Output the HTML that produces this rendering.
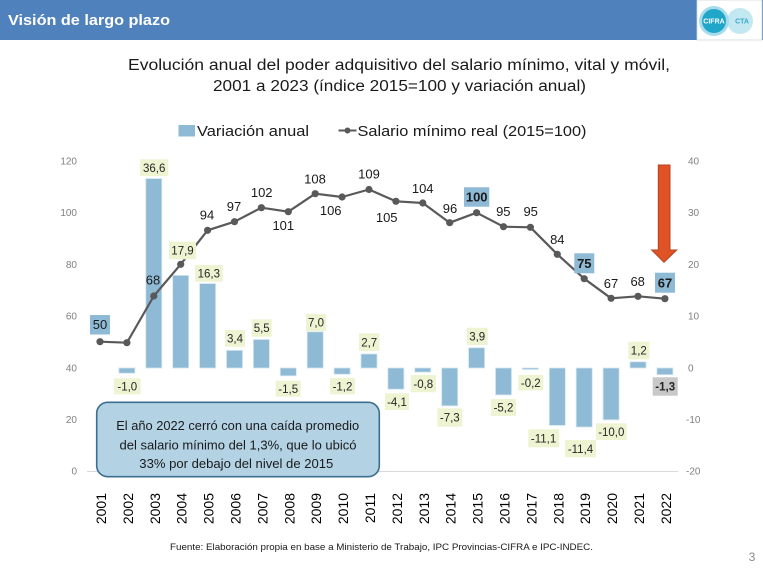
<!DOCTYPE html>
<html><head><meta charset="utf-8"><style>
html,body{margin:0;padding:0;background:#fff;}
svg{display:block;font-family:"Liberation Sans",sans-serif;}
</style></head><body>
<svg width="763" height="572" viewBox="0 0 763 572" xmlns="http://www.w3.org/2000/svg">
<!-- header -->
<rect x="0" y="0" width="763" height="40" fill="#4f81bd"/>
<text x="8" y="25" font-size="15" font-weight="bold" fill="#fff" textLength="162" lengthAdjust="spacingAndGlyphs">Visión de largo plazo</text>
<rect x="697" y="0" width="65" height="40" fill="#fff" stroke="#d0d8e0" stroke-width="0.8"/>
<circle cx="740" cy="21" r="13" fill="#c4e8f2"/>
<circle cx="714" cy="21" r="15" fill="#a6dcec"/>
<circle cx="714" cy="21" r="12" fill="#1fa6c8"/>
<text x="714" y="23.5" font-size="7" font-weight="bold" fill="#fff" text-anchor="middle">CIFRA</text>
<text x="742" y="23.5" font-size="7" font-weight="bold" fill="#36a9c9" text-anchor="middle">CTA</text>

<!-- title -->
<text x="399" y="70" font-size="15.5" fill="#1a1a1a" text-anchor="middle" textLength="542" lengthAdjust="spacingAndGlyphs">Evolución anual del poder adquisitivo del salario mínimo, vital y móvil,</text>
<text x="399.5" y="91" font-size="15.5" fill="#1a1a1a" text-anchor="middle" textLength="373" lengthAdjust="spacingAndGlyphs">2001 a 2023 (índice 2015=100 y variación anual)</text>

<!-- legend -->
<rect x="178.5" y="125" width="16.5" height="11.5" fill="#8ebad5"/>
<text x="197" y="136" font-size="15" fill="#1a1a1a" textLength="112" lengthAdjust="spacingAndGlyphs">Variación anual</text>
<line x1="338.5" y1="130.5" x2="356.5" y2="130.5" stroke="#595959" stroke-width="2"/>
<circle cx="347.5" cy="130.5" r="3" fill="#595959"/>
<text x="357.5" y="136" font-size="15" fill="#1a1a1a" textLength="229" lengthAdjust="spacingAndGlyphs">Salario mínimo real (2015=100)</text>

<!-- axes labels left -->
<g font-size="10" fill="#808080" text-anchor="end">
<text x="77" y="164.5">120</text>
<text x="77" y="216">100</text>
<text x="77" y="268">80</text>
<text x="77" y="319.5">60</text>
<text x="77" y="371.5">40</text>
<text x="77" y="423">20</text>
<text x="77" y="474.5">0</text>
</g>
<g font-size="10" fill="#808080" text-anchor="start">
<text x="688" y="164.5">40</text>
<text x="688" y="216">30</text>
<text x="688" y="268">20</text>
<text x="688" y="319.5">10</text>
<text x="688" y="371.5">0</text>
<text x="686" y="423">-10</text>
<text x="686" y="474.5">-20</text>
</g>
<line x1="87" y1="471.5" x2="678" y2="471.5" stroke="#d9d9d9" stroke-width="1"/>

<!-- bars -->
<g fill="#8ebad5" stroke="#d3e5ef" stroke-width="0.8">
<rect x="118.9" y="368" width="16" height="5.2"/>
<rect x="145.8" y="178.6" width="16" height="189.4"/>
<rect x="172.7" y="275.4" width="16" height="92.6"/>
<rect x="199.6" y="283.6" width="16" height="84.4"/>
<rect x="226.5" y="350.4" width="16" height="17.6"/>
<rect x="253.4" y="339.5" width="16" height="28.5"/>
<rect x="280.3" y="368" width="16" height="7.8"/>
<rect x="307.2" y="331.8" width="16" height="36.2"/>
<rect x="334.1" y="368" width="16" height="6.2"/>
<rect x="361" y="354" width="16" height="14"/>
<rect x="387.9" y="368" width="16" height="21.2"/>
<rect x="414.8" y="368" width="16" height="4.1"/>
<rect x="441.7" y="368" width="16" height="37.8"/>
<rect x="468.6" y="347.8" width="16" height="20.2"/>
<rect x="495.5" y="368" width="16" height="26.9"/>
<rect x="522.4" y="368" width="16" height="1.5"/>
<rect x="549.3" y="368" width="16" height="57.4"/>
<rect x="576.2" y="368" width="16" height="59"/>
<rect x="603.1" y="368" width="16" height="51.8"/>
<rect x="630" y="361.8" width="16" height="6.2"/>
<rect x="656.9" y="368" width="16" height="6.7"/>
</g>

<!-- line -->
<polyline fill="none" stroke="#595959" stroke-width="2.2" stroke-linejoin="round" points="100,341.7 126.9,342.7 153.8,296 180.7,264.3 207.6,230.3 234.5,221.7 261.4,207.7 288.3,211.7 315.2,193.7 342.1,197 369,189.5 395.9,201.3 422.8,203 449.7,222.7 476.6,212.7 503.5,226.7 530.4,227.3 557.3,254.3 584.2,278.7 611.1,298.3 638,296.3 664.9,298.7"/>
<g fill="#595959">
<circle cx="100" cy="341.7" r="3.6"/><circle cx="126.9" cy="342.7" r="3.6"/><circle cx="153.8" cy="296" r="3.6"/><circle cx="180.7" cy="264.3" r="3.6"/><circle cx="207.6" cy="230.3" r="3.6"/><circle cx="234.5" cy="221.7" r="3.6"/><circle cx="261.4" cy="207.7" r="3.6"/><circle cx="288.3" cy="211.7" r="3.6"/><circle cx="315.2" cy="193.7" r="3.6"/><circle cx="342.1" cy="197" r="3.6"/><circle cx="369" cy="189.5" r="3.6"/><circle cx="395.9" cy="201.3" r="3.6"/><circle cx="422.8" cy="203" r="3.6"/><circle cx="449.7" cy="222.7" r="3.6"/><circle cx="476.6" cy="212.7" r="3.6"/><circle cx="503.5" cy="226.7" r="3.6"/><circle cx="530.4" cy="227.3" r="3.6"/><circle cx="557.3" cy="254.3" r="3.6"/><circle cx="584.2" cy="278.7" r="3.6"/><circle cx="611.1" cy="298.3" r="3.6"/><circle cx="638" cy="296.3" r="3.6"/><circle cx="664.9" cy="298.7" r="3.6"/>
</g>

<!-- line value labels -->
<g font-size="13" fill="#1a1a1a" text-anchor="middle">
<text x="153" y="284.5">68</text>
<text x="207" y="219.5">94</text>
<text x="234" y="211">97</text>
<text x="261.7" y="197">102</text>
<text x="283.3" y="230">101</text>
<text x="315" y="183.5">108</text>
<text x="330.7" y="215">106</text>
<text x="369" y="178.5">109</text>
<text x="386.7" y="222">105</text>
<text x="422.7" y="192.8">104</text>
<text x="450" y="212.8">96</text>
<text x="503.3" y="216">95</text>
<text x="530.7" y="216">95</text>
<text x="557.3" y="243.8">84</text>
<text x="611" y="287.8">67</text>
<text x="637.7" y="286">68</text>
</g>
<g fill="#8ebad5">
<rect x="90" y="315" width="20" height="19.5"/>
<rect x="464" y="187.3" width="25.3" height="19.4"/>
<rect x="574.3" y="253.3" width="20" height="20"/>
<rect x="655" y="272.7" width="20" height="20"/>
</g>
<g font-size="13" fill="#1a1a1a" text-anchor="middle">
<text x="100" y="329.2">50</text>
<text x="476.7" y="201.6" font-weight="bold">100</text>
<text x="584.3" y="268" font-weight="bold">75</text>
<text x="665" y="287.4" font-weight="bold">67</text>
</g>

<!-- bar labels -->
<g fill="#eef3d2">
<rect x="140" y="159.3" width="28.3" height="16.7"/>
<rect x="169" y="241.7" width="27" height="17.6"/>
<rect x="195" y="265" width="27.7" height="16.7"/>
<rect x="225" y="330" width="20" height="16.7"/>
<rect x="251.7" y="319.3" width="20" height="17.4"/>
<rect x="306" y="314" width="20" height="17"/>
<rect x="359" y="333.3" width="20.3" height="17.7"/>
<rect x="466.7" y="327.7" width="21" height="17.3"/>
<rect x="628.3" y="341.7" width="21" height="17.6"/>
<rect x="114" y="378.3" width="26.7" height="16"/>
<rect x="275.7" y="380.7" width="25" height="16"/>
<rect x="330" y="378" width="25" height="16.3"/>
<rect x="385" y="393.3" width="24" height="16.7"/>
<rect x="410.7" y="375" width="25.3" height="17.3"/>
<rect x="437.3" y="408.3" width="25" height="18.4"/>
<rect x="491" y="399" width="25" height="17"/>
<rect x="518.3" y="375" width="25" height="15.5"/>
<rect x="528.3" y="429.3" width="30.7" height="18"/>
<rect x="565" y="440" width="31" height="17.3"/>
<rect x="596" y="423.3" width="30.7" height="16.7"/>
</g>
<rect x="652.7" y="377.3" width="25" height="18.4" fill="#c8c8c8"/>
<g font-size="11.5" fill="#262626" text-anchor="middle">
<text x="154.2" y="171.8">36,6</text>
<text x="182.5" y="254.6">17,9</text>
<text x="208.8" y="277.5">16,3</text>
<text x="235" y="342.4">3,4</text>
<text x="261.7" y="332">5,5</text>
<text x="316" y="326.6">7,0</text>
<text x="369.2" y="346.3">2,7</text>
<text x="477.2" y="340.5">3,9</text>
<text x="638.8" y="354.6">1,2</text>
<text x="127.3" y="390.4">-1,0</text>
<text x="288.2" y="392.8">-1,5</text>
<text x="342.5" y="390.3">-1,2</text>
<text x="397" y="405.8">-4,1</text>
<text x="423.3" y="387.8">-0,8</text>
<text x="449.8" y="421.6">-7,3</text>
<text x="503.5" y="411.6">-5,2</text>
<text x="530.8" y="386.8">-0,2</text>
<text x="543.6" y="442.4">-11,1</text>
<text x="580.5" y="452.8">-11,4</text>
<text x="611.3" y="435.8">-10,0</text>
<text x="665.2" y="390.6" font-weight="bold">-1,3</text>
</g>

<!-- arrow -->
<polygon points="658.3,165 670,165 670,250 676.7,250 664,262.3 651.7,250 658.3,250" fill="#e05326" stroke="#b5431e" stroke-width="1"/>

<!-- annotation -->
<rect x="96.7" y="402.3" width="282.6" height="74.4" rx="11" ry="11" fill="#b3d3e5" stroke="#3c6e8e" stroke-width="1.6"/>
<g font-size="13" fill="#1a1a1a" text-anchor="middle">
<text x="237.7" y="430.2" textLength="243" lengthAdjust="spacingAndGlyphs">El año 2022 cerró con una caída promedio</text>
<text x="238" y="449.5" textLength="237" lengthAdjust="spacingAndGlyphs">del salario mínimo del 1,3%, que lo ubicó</text>
<text x="236.3" y="467.8" textLength="194" lengthAdjust="spacingAndGlyphs">33% por debajo del nivel de 2015</text>
</g>

<!-- year labels -->
<g font-size="14" fill="#000" text-anchor="end">
<text transform="translate(106,493) rotate(-90)">2001</text>
<text transform="translate(132.9,493) rotate(-90)">2002</text>
<text transform="translate(159.8,493) rotate(-90)">2003</text>
<text transform="translate(186.7,493) rotate(-90)">2004</text>
<text transform="translate(213.6,493) rotate(-90)">2005</text>
<text transform="translate(240.5,493) rotate(-90)">2006</text>
<text transform="translate(267.4,493) rotate(-90)">2007</text>
<text transform="translate(294.3,493) rotate(-90)">2008</text>
<text transform="translate(321.2,493) rotate(-90)">2009</text>
<text transform="translate(348.1,493) rotate(-90)">2010</text>
<text transform="translate(375,493) rotate(-90)">2011</text>
<text transform="translate(401.9,493) rotate(-90)">2012</text>
<text transform="translate(428.8,493) rotate(-90)">2013</text>
<text transform="translate(455.7,493) rotate(-90)">2014</text>
<text transform="translate(482.6,493) rotate(-90)">2015</text>
<text transform="translate(509.5,493) rotate(-90)">2016</text>
<text transform="translate(536.4,493) rotate(-90)">2017</text>
<text transform="translate(563.3,493) rotate(-90)">2018</text>
<text transform="translate(590.2,493) rotate(-90)">2019</text>
<text transform="translate(617.1,493) rotate(-90)">2020</text>
<text transform="translate(644,493) rotate(-90)">2021</text>
<text transform="translate(670.9,493) rotate(-90)">2022</text>
</g>

<!-- footer -->
<text x="170" y="550" font-size="9.5" fill="#1a1a1a" textLength="423" lengthAdjust="spacingAndGlyphs">Fuente: Elaboración propia en base a Ministerio de Trabajo, IPC Provincias-CIFRA e IPC-INDEC.</text>
<text x="752" y="561" font-size="12" fill="#8a8a8a" text-anchor="middle">3</text>
</svg>
</body></html>
